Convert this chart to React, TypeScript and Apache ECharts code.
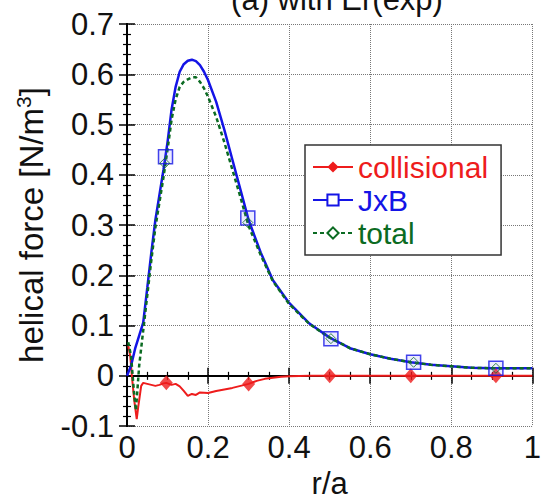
import React, { useEffect, useRef } from "react";
import * as echarts from "echarts";

// ---- data ----
const xTicks = [0, 0.2, 0.4, 0.6, 0.8, 1];
const yTicks = [-0.1, 0, 0.1, 0.2, 0.3, 0.4, 0.5, 0.6, 0.7];

const rJxB = [0, 0.01, 0.02, 0.03, 0.04, 0.05, 0.06, 0.07, 0.08, 0.09, 0.1, 0.11, 0.12, 0.13, 0.14, 0.15, 0.16, 0.17, 0.18, 0.19, 0.2, 0.22, 0.24, 0.26, 0.28, 0.3, 0.33, 0.36, 0.4, 0.45, 0.5, 0.55, 0.6, 0.65, 0.7, 0.75, 0.8, 0.85, 0.9, 0.95, 1.0];
const vJxB = [0.0, 0.02, 0.054, 0.08, 0.106, 0.175, 0.245, 0.31, 0.36, 0.41, 0.465, 0.53, 0.575, 0.605, 0.62, 0.627, 0.629, 0.626, 0.618, 0.605, 0.588, 0.545, 0.49, 0.43, 0.37, 0.31, 0.245, 0.19, 0.145, 0.104, 0.076, 0.055, 0.043, 0.034, 0.027, 0.022, 0.019, 0.016, 0.015, 0.015, 0.015];

const rTotal = [0.003, 0.01, 0.017, 0.022, 0.03, 0.04, 0.05, 0.06, 0.07, 0.08, 0.09, 0.1, 0.11, 0.12, 0.13, 0.14, 0.15, 0.16, 0.17, 0.18, 0.19, 0.2, 0.22, 0.24, 0.26, 0.28, 0.3, 0.33, 0.36, 0.4, 0.45, 0.5, 0.55, 0.6, 0.65, 0.7, 0.75, 0.8, 0.85, 0.9, 0.95, 1.0];
const vTotal = [0.067, 0.04, -0.03, -0.069, 0.02, 0.09, 0.16, 0.23, 0.295, 0.345, 0.395, 0.45, 0.51, 0.55, 0.575, 0.585, 0.59, 0.594, 0.594, 0.585, 0.572, 0.555, 0.515, 0.465, 0.41, 0.355, 0.298, 0.24, 0.188, 0.143, 0.103, 0.076, 0.055, 0.043, 0.034, 0.027, 0.022, 0.019, 0.016, 0.015, 0.015, 0.015];

const rColl = [0.003, 0.008, 0.012, 0.018, 0.024, 0.028, 0.035, 0.04, 0.05, 0.06, 0.07, 0.08, 0.09, 0.097, 0.11, 0.12, 0.13, 0.14, 0.15, 0.16, 0.17, 0.18, 0.2, 0.22, 0.24, 0.26, 0.28, 0.3, 0.32, 0.34, 0.36, 0.38, 0.4, 0.45, 0.5, 0.6, 0.7, 0.8, 0.9, 1.0];
const vColl = [0.06, 0.04, 0.0, -0.05, -0.086, -0.06, -0.02, -0.014, -0.016, -0.018, -0.02, -0.018, -0.015, -0.014, -0.018, -0.016, -0.021, -0.03, -0.04, -0.036, -0.038, -0.033, -0.034, -0.03, -0.027, -0.024, -0.02, -0.016, -0.01, -0.006, -0.004, -0.002, -0.001, 0.0, 0.0, 0.0, 0.0, 0.0, 0.0, 0.0];

const mJxBr = [0.095, 0.298, 0.503, 0.707, 0.91];
const mJxBv = [0.436, 0.314, 0.074, 0.027, 0.015];
const mTotr = [0.093, 0.298, 0.503, 0.707, 0.91];
const mTotv = [0.423, 0.305, 0.074, 0.027, 0.015];
const mColr = [0.097, 0.3, 0.5, 0.7, 0.91];
const mColv = [-0.014, -0.016, 0.0, 0.0, 0.0];

const seriesNames = ["collisional", "JxB", "total"];
const RED = "#ee1c1c";
const BLUE = "#1414e6";
const GREEN = "#0b6b22";
const FONT = "Liberation Sans, Arial, Helvetica, sans-serif";

const zip = (a: number[], b: number[]) => a.map((x, i) => [x, b[i]]);

export default function App() {
  const ref = useRef<HTMLDivElement>(null);
  useEffect(() => {
    if (!ref.current) return;
    const chart = echarts.init(ref.current, undefined, { renderer: "svg" });
    const axisCommon = {
      axisLine: { lineStyle: { color: "#000", width: 2 } },
      axisTick: { inside: true, length: 8, lineStyle: { color: "#000", width: 1.5 } },
      minorTick: { show: true, length: 4, lineStyle: { color: "#000", width: 1.2 } },
    };
    chart.setOption({
      animation: false,
      backgroundColor: "#fff",
      title: {
        text: "(a) with Er(exp)",
        left: 332,
        textAlign: "center",
        top: -21,
        textStyle: { fontFamily: FONT, fontSize: 31, fontWeight: "normal", color: "#111" },
      },
      grid: { left: 127, right: 7, top: 24, bottom: 68 },
      legend: {
        orient: "vertical",
        left: 305,
        top: 145,
        padding: [6, 13, 6, 7],
        itemGap: 1,
        itemWidth: 40,
        itemHeight: 14,
        backgroundColor: "#fff",
        borderColor: "#333",
        borderWidth: 1.5,
        borderRadius: 0,
        data: [
          { name: seriesNames[0], textStyle: { color: RED } },
          { name: seriesNames[1], textStyle: { color: BLUE } },
          { name: seriesNames[2], textStyle: { color: GREEN } },
        ],
        textStyle: { fontFamily: FONT, fontSize: 30, lineHeight: 32 },
      },
      xAxis: [
        {
          type: "value",
          min: xTicks[0],
          max: xTicks[xTicks.length - 1],
          interval: 0.2,
          minorTick: { ...axisCommon.minorTick, splitNumber: 4 },
          axisLine: axisCommon.axisLine,
          axisTick: axisCommon.axisTick,
          splitLine: { show: true, lineStyle: { color: "#777", type: "dotted", width: 1 } },
          axisLabel: { fontFamily: FONT, fontSize: 31, color: "#111", margin: 6 },
          name: "r/a",
          nameLocation: "middle",
          nameGap: 39,
          nameTextStyle: { fontFamily: FONT, fontSize: 31, color: "#111" },
        },
        {
          type: "value",
          position: "top",
          min: xTicks[0],
          max: xTicks[xTicks.length - 1],
          interval: 0.2,
          minorTick: { ...axisCommon.minorTick, splitNumber: 4 },
          axisLine: axisCommon.axisLine,
          axisTick: axisCommon.axisTick,
          splitLine: { show: false },
          axisLabel: { show: false },
        },
      ],
      yAxis: [
        {
          type: "value",
          min: yTicks[0],
          max: yTicks[yTicks.length - 1],
          interval: 0.1,
          minorTick: { ...axisCommon.minorTick, splitNumber: 5 },
          axisLine: axisCommon.axisLine,
          axisTick: axisCommon.axisTick,
          splitLine: { show: true, lineStyle: { color: "#777", type: "dotted", width: 1 } },
          axisLabel: { fontFamily: FONT, fontSize: 31, color: "#111", margin: 13 },
          name: "helical force [N/m{sup|3}]",
          nameLocation: "middle",
          nameRotate: 90,
          nameGap: 77,
          nameTextStyle: {
            fontFamily: FONT,
            fontSize: 33,
            color: "#111",
            rich: { sup: { fontFamily: FONT, fontSize: 21, color: "#111", padding: [0, 0, 16, 0] } },
          },
        },
        {
          type: "value",
          position: "right",
          min: yTicks[0],
          max: yTicks[yTicks.length - 1],
          interval: 0.1,
          minorTick: { ...axisCommon.minorTick, splitNumber: 5 },
          axisLine: axisCommon.axisLine,
          axisTick: axisCommon.axisTick,
          splitLine: { show: false },
          axisLabel: { show: false },
        },
      ],
      series: [
        {
          name: seriesNames[0],
          type: "line",
          data: zip(rColl, vColl),
          showSymbol: false,
          symbol: "diamond",
          itemStyle: { color: RED },
          lineStyle: { color: RED, width: 2 },
          z: 2,
        },
        {
          name: seriesNames[1],
          type: "line",
          data: zip(rJxB, vJxB),
          showSymbol: false,
          symbol: "emptyRect",
          itemStyle: { color: BLUE },
          lineStyle: { color: BLUE, width: 2.5 },
          z: 3,
        },
        {
          name: seriesNames[2],
          type: "line",
          data: zip(rTotal, vTotal),
          showSymbol: false,
          symbol: "emptyDiamond",
          itemStyle: { color: GREEN },
          lineStyle: { color: GREEN, width: 2.5, type: [4, 3] },
          z: 4,
        },
        {
          name: "collisional markers",
          type: "scatter",
          data: zip(mColr, mColv),
          symbol: "diamond",
          symbolSize: [13, 15],
          itemStyle: { color: RED },
          z: 5,
        },
        {
          name: "JxB markers",
          type: "scatter",
          data: zip(mJxBr, mJxBv),
          symbol: "rect",
          symbolSize: 14,
          itemStyle: { color: "rgba(90,90,255,0.15)", borderColor: BLUE, borderWidth: 1.5 },
          z: 6,
        },
        {
          name: "total markers",
          type: "scatter",
          data: zip(mTotr, mTotv),
          symbol: "diamond",
          symbolSize: 10,
          itemStyle: { color: "rgba(255,255,255,0)", borderColor: GREEN, borderWidth: 1 },
          z: 7,
        },
      ],
    });
    return () => chart.dispose();
  }, []);
  return (
    <div
      ref={ref}
      style={{ position: "absolute", left: 0, top: 0, width: 544, height: 504 }}
    />
  );
}
